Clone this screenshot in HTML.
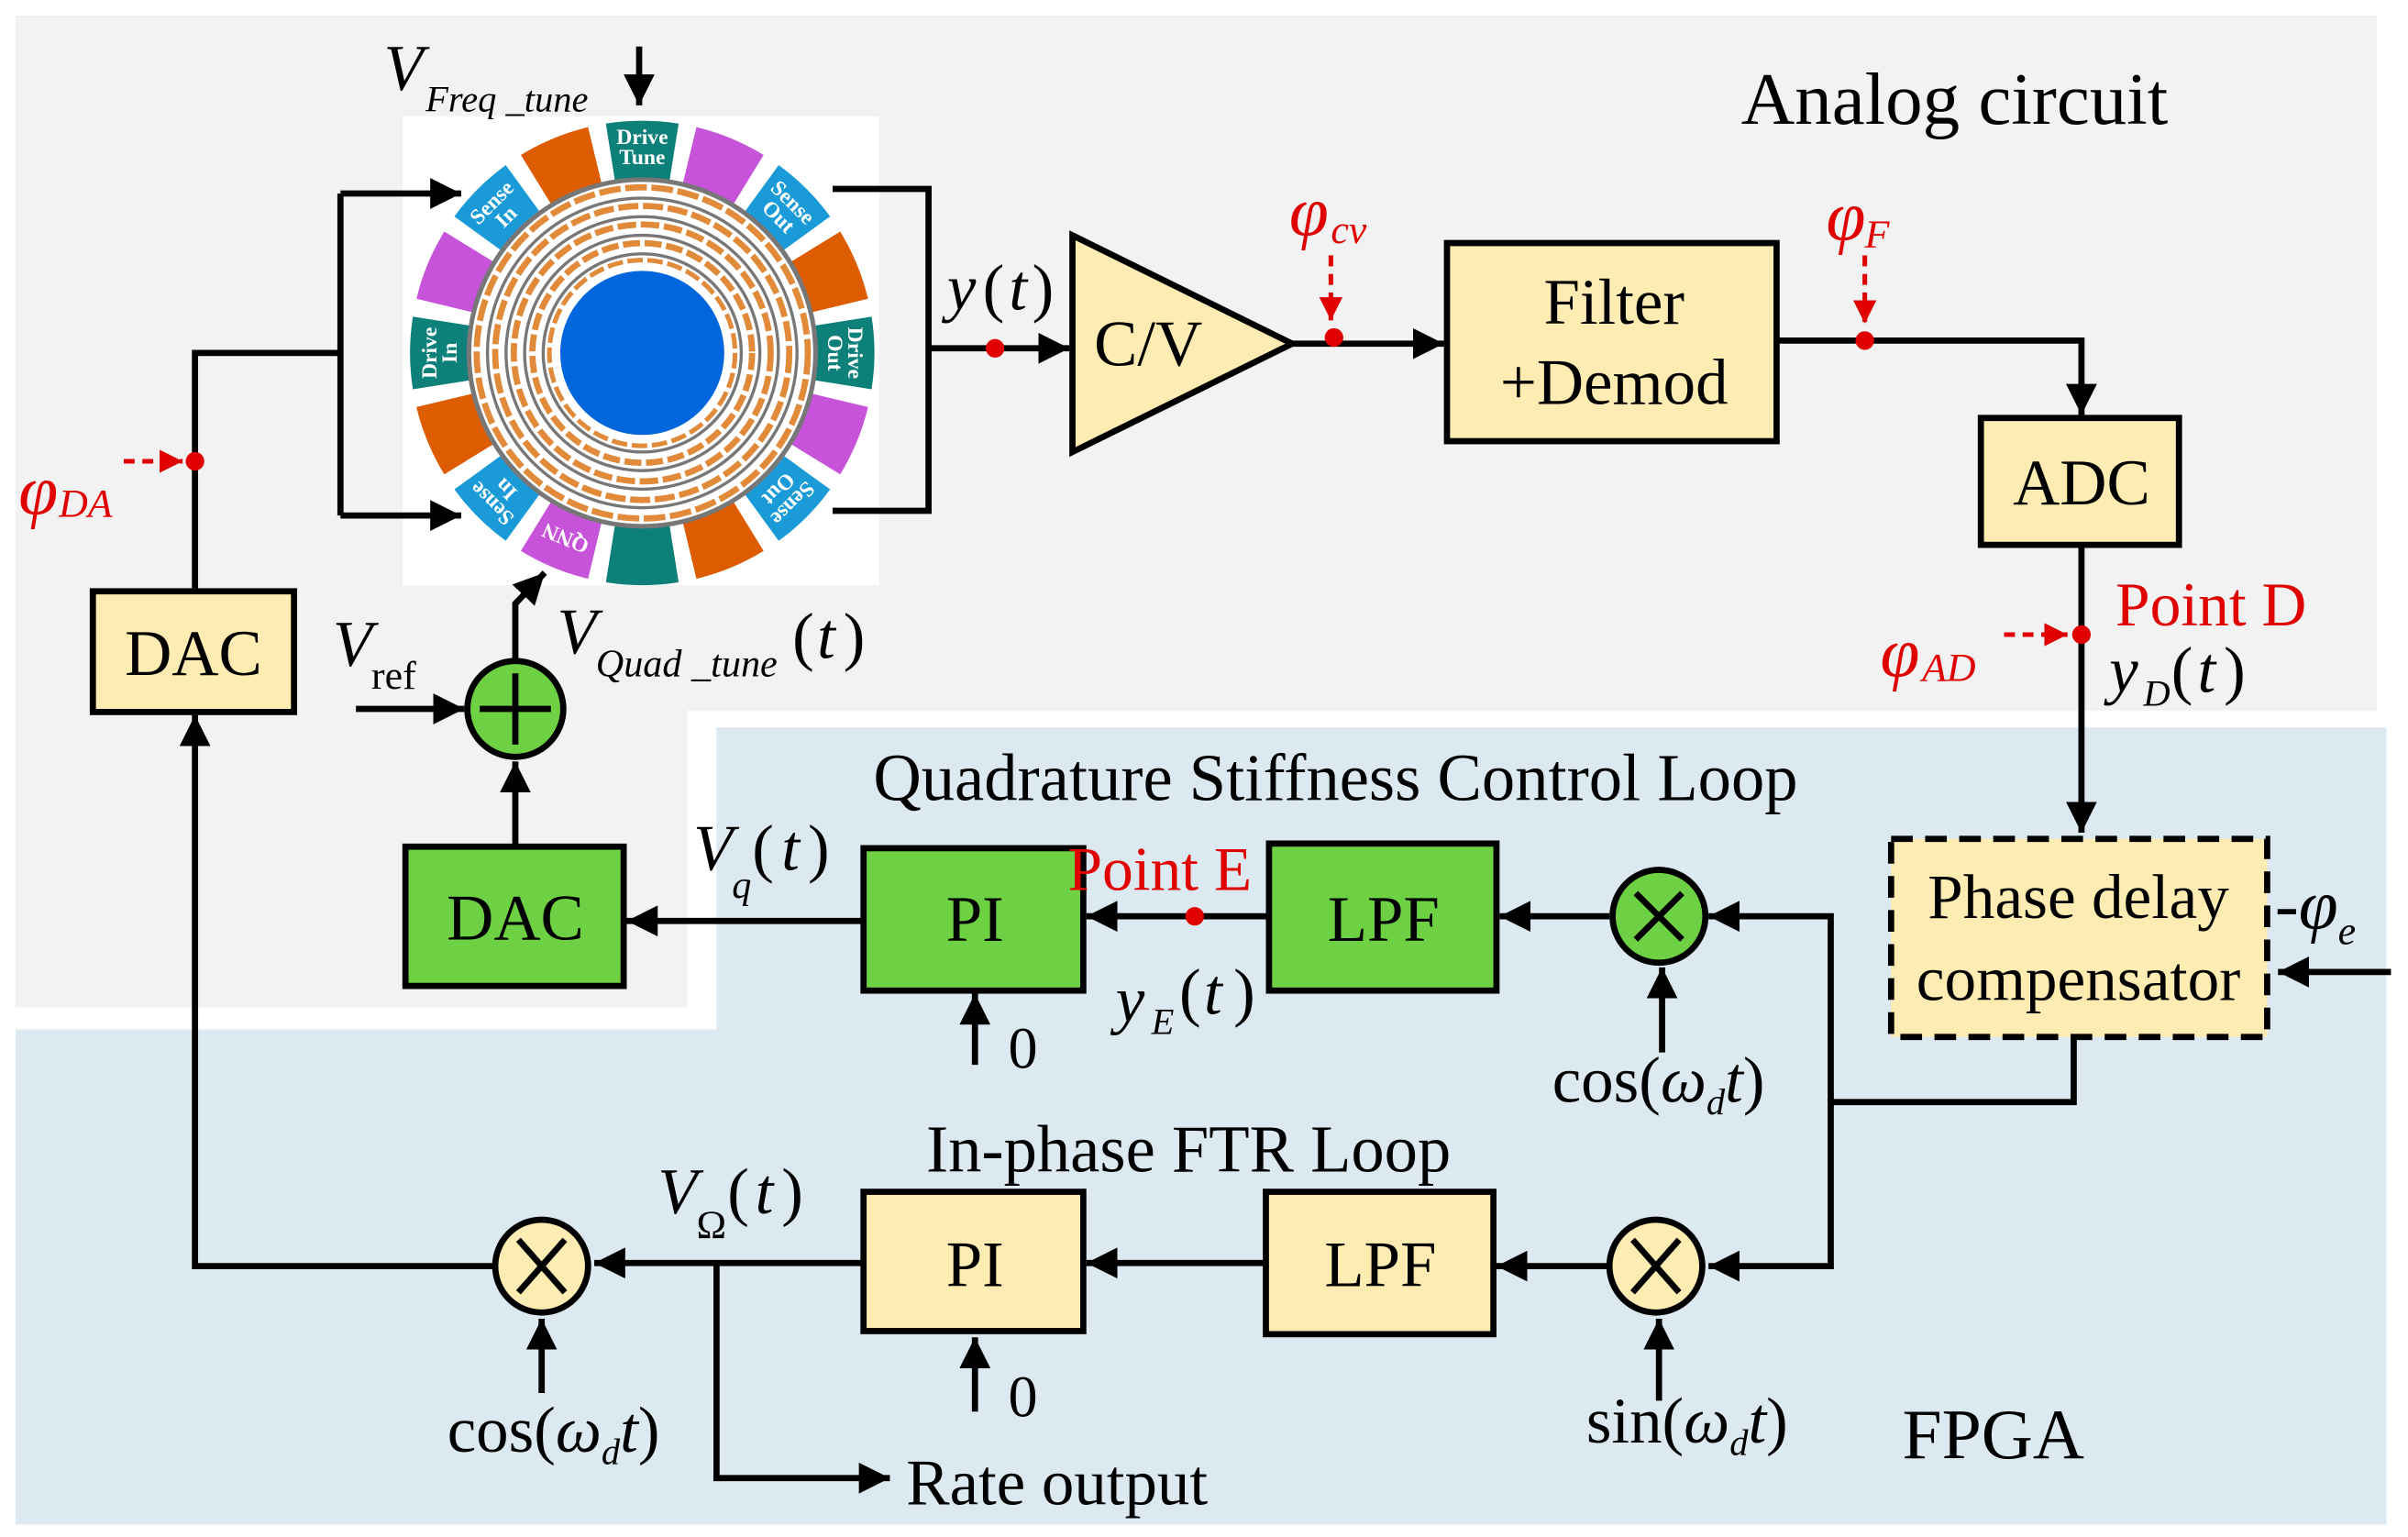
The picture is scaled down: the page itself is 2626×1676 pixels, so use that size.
<!DOCTYPE html>
<html><head><meta charset="utf-8"><style>
html,body{margin:0;padding:0;background:#fff;}
svg{display:block;}
text{font-family:"Liberation Serif",serif;}
.it{font-style:italic;}
</style></head><body>
<svg width="2626" height="1676" viewBox="0 0 1556 993" xmlns="http://www.w3.org/2000/svg">
<defs>
<marker id="ar" viewBox="0 0 10 10" refX="10" refY="5" markerWidth="5" markerHeight="5" orient="auto" markerUnits="strokeWidth"><path d="M0,0L10,5L0,10Z" fill="#000"/></marker>
<marker id="rr" viewBox="0 0 10 10" refX="10" refY="5" markerWidth="5" markerHeight="5" orient="auto" markerUnits="strokeWidth"><path d="M0,0L10,5L0,10Z" fill="#e00000"/></marker>
<path id="sg" d="M391.5,79.8A150,150 0 0 1 438.5,79.8L432.7,116.4A113,113 0 0 0 397.3,116.4Z"/>
</defs>
<path d="M10,10H1536V459H444V651H10Z" fill="#f2f2f2"/>
<path d="M463,470H1542V985H10V665H463Z" fill="#dce9f0"/>

<rect x="260" y="75" width="308" height="303" fill="#fff"/>
<g>
<use href="#sg" fill="#0e807a"/>
<use href="#sg" fill="#c653d9" transform="rotate(22.5 415 228)"/>
<use href="#sg" fill="#1a9bd7" transform="rotate(45 415 228)"/>
<use href="#sg" fill="#de5c00" transform="rotate(67.5 415 228)"/>
<use href="#sg" fill="#0e807a" transform="rotate(90 415 228)"/>
<use href="#sg" fill="#c653d9" transform="rotate(112.5 415 228)"/>
<use href="#sg" fill="#1a9bd7" transform="rotate(135 415 228)"/>
<use href="#sg" fill="#de5c00" transform="rotate(157.5 415 228)"/>
<use href="#sg" fill="#0e807a" transform="rotate(180 415 228)"/>
<use href="#sg" fill="#c653d9" transform="rotate(202.5 415 228)"/>
<use href="#sg" fill="#1a9bd7" transform="rotate(225 415 228)"/>
<use href="#sg" fill="#de5c00" transform="rotate(247.5 415 228)"/>
<use href="#sg" fill="#0e807a" transform="rotate(270 415 228)"/>
<use href="#sg" fill="#c653d9" transform="rotate(292.5 415 228)"/>
<use href="#sg" fill="#1a9bd7" transform="rotate(315 415 228)"/>
<use href="#sg" fill="#de5c00" transform="rotate(337.5 415 228)"/>
</g>
<g font-family="Liberation Serif" font-weight="bold" font-size="14" fill="#fff" text-anchor="middle">
<g><text x="415" y="93">Drive</text><text x="415" y="106">Tune</text></g>
<g transform="rotate(45 415 228)"><text x="415" y="95">Sense</text><text x="415" y="108">Out</text></g>
<g transform="rotate(90 415 228)"><text x="415" y="95">Drive</text><text x="415" y="108">Out</text></g>
<g transform="rotate(135 415 228)"><text x="415" y="95">Sense</text><text x="415" y="108">Out</text></g>
<g transform="rotate(202.5 415 228)"><text x="415" y="103">QNN</text></g>
<g transform="rotate(225 415 228)"><text x="415" y="95">Sense</text><text x="415" y="108">In</text></g>
<g transform="rotate(270 415 228)"><text x="415" y="95">Drive</text><text x="415" y="108">In</text></g>
<g transform="rotate(315 415 228)"><text x="415" y="95">Sense</text><text x="415" y="108">In</text></g>
</g>
<circle cx="415" cy="228" r="112" fill="#fff" stroke="#777" stroke-width="3"/>
<g fill="none">
<circle cx="415" cy="228" r="107" stroke="#e08a3a" stroke-width="4" stroke-dasharray="14 3"/>
<circle cx="415" cy="228" r="100" stroke="#777" stroke-width="2"/>
<circle cx="415" cy="228" r="95" stroke="#e08a3a" stroke-width="4" stroke-dasharray="13 3"/>
<circle cx="415" cy="228" r="88" stroke="#777" stroke-width="2"/>
<circle cx="415" cy="228" r="83" stroke="#e08a3a" stroke-width="4" stroke-dasharray="12 3"/>
<circle cx="415" cy="228" r="76" stroke="#777" stroke-width="2"/>
<circle cx="415" cy="228" r="71" stroke="#e08a3a" stroke-width="4" stroke-dasharray="11 3"/>
<circle cx="415" cy="228" r="64" stroke="#777" stroke-width="2"/>
<circle cx="415" cy="228" r="60" stroke="#e08a3a" stroke-width="3" stroke-dasharray="10 3"/>
</g>
<circle cx="415" cy="228" r="53" fill="#0066dd"/>

<g stroke="#000" stroke-width="4" fill="none">
<path d="M126,380V228H220"/>
<path d="M220,125V333"/>
<path d="M220,125H298" marker-end="url(#ar)"/>
<path d="M220,333H298" marker-end="url(#ar)"/>
<path d="M413,30V68" marker-end="url(#ar)"/>
<path d="M538,122H600V330H538"/>
<path d="M600,225H691" marker-end="url(#ar)"/>
<path d="M835,222H933" marker-end="url(#ar)"/>
<path d="M1148,220H1345V268" marker-end="url(#ar)"/>
<path d="M1345,352V538" marker-end="url(#ar)"/>
<path d="M1545,628H1472" marker-end="url(#ar)"/>
<path d="M1340,670V712H1183V818H1104" marker-end="url(#ar)"/>
<path d="M1183,712V592H1104" marker-end="url(#ar)"/>
<path d="M1040,592H969" marker-end="url(#ar)"/>
<path d="M820,592H702" marker-end="url(#ar)"/>
<path d="M558,595H405" marker-end="url(#ar)"/>
<path d="M630,688V642" marker-end="url(#ar)"/>
<path d="M333,547V492" marker-end="url(#ar)"/>
<path d="M230,458H300" marker-end="url(#ar)"/>
<path d="M333,427V390L352,370" marker-end="url(#ar)"/>
<path d="M1074,680V625" marker-end="url(#ar)"/>
<path d="M1040,818H967" marker-end="url(#ar)"/>
<path d="M818,816H702" marker-end="url(#ar)"/>
<path d="M558,816H384" marker-end="url(#ar)"/>
<path d="M320,818H126V462" marker-end="url(#ar)"/>
<path d="M463,816V955H575" marker-end="url(#ar)"/>
<path d="M350,900V852" marker-end="url(#ar)"/>
<path d="M630,912V864" marker-end="url(#ar)"/>
<path d="M1072,905V852" marker-end="url(#ar)"/>
</g>

<g stroke="#000" stroke-width="4">
<path d="M693,152L835,222L693,292Z" fill="#ffecb3"/>
<rect x="935" y="157" width="213" height="128" fill="#ffecb3"/>
<rect x="1280" y="270" width="128" height="82" fill="#ffecb3"/>
<rect x="1222" y="542" width="243" height="128" fill="#ffecb3" stroke-dasharray="14 8"/>
<rect x="60" y="382" width="130" height="78" fill="#ffecb3"/>
<rect x="262" y="547" width="141" height="90" fill="#6dd143"/>
<rect x="558" y="548" width="142" height="92" fill="#6dd143"/>
<rect x="820" y="545" width="147" height="95" fill="#6dd143"/>
<rect x="558" y="770" width="142" height="90" fill="#ffecb3"/>
<rect x="818" y="770" width="147" height="92" fill="#ffecb3"/>
<circle cx="333" cy="458" r="31" fill="#6dd143"/>
<circle cx="1072" cy="592" r="30" fill="#6dd143"/>
<circle cx="1070" cy="818" r="30" fill="#ffecb3"/>
<circle cx="350" cy="818" r="30" fill="#ffecb3"/>
<path d="M333,435V481M310,458H356" fill="none"/>
<path d="M1057,577L1087,607M1087,577L1057,607" fill="none"/>
<path d="M1055,801L1085,835M1085,801L1055,835" fill="none"/>
<path d="M335,801L365,835M365,801L335,835" fill="none"/>
</g>

<g stroke="#e00000" stroke-width="3" fill="none" stroke-dasharray="7 5">
<path d="M80,298H118" marker-end="url(#rr)"/>
<path d="M860,165V207" marker-end="url(#rr)"/>
<path d="M1205,165V209" marker-end="url(#rr)"/>
<path d="M1295,410H1336" marker-end="url(#rr)"/>
</g>
<g fill="#e00000">
<circle cx="126" cy="298" r="6"/><circle cx="643" cy="225" r="6"/>
<circle cx="862" cy="218" r="6"/><circle cx="1205" cy="220" r="6"/>
<circle cx="1345" cy="410" r="6"/><circle cx="772" cy="592" r="6"/>
</g>

<g font-size="42" text-anchor="middle" fill="#000">
<text x="1263" y="80" font-size="48">Analog circuit</text>
<text x="742" y="236">C/V</text>
<text x="1043" y="209">Filter</text>
<text x="1043" y="261">+Demod</text>
<text x="1345" y="326">ADC</text>
<text x="125" y="436">DAC</text>
<text x="333" y="607">DAC</text>
<text x="630" y="608">PI</text>
<text x="894" y="608">LPF</text>
<text x="630" y="831">PI</text>
<text x="892" y="831">LPF</text>
<text x="1343" y="593" font-size="41">Phase delay</text>
<text x="1343" y="646" font-size="41">compensator</text>
<text x="863" y="517" font-size="43">Quadrature Stiffness Control Loop</text>
<text x="768" y="757" font-size="43">In-phase FTR Loop</text>
<text x="1288" y="942" font-size="46">FPGA</text>
<text x="683" y="972" font-size="42">Rate output</text>
<text x="661" y="690" font-size="38">0</text>
<text x="661" y="915" font-size="38">0</text>
</g>
<g font-size="42" fill="#000">
<text x="248" y="58" class="it">V</text><text x="275" y="72" class="it" font-size="24">Freq _tune</text>
<text x="612" y="200" class="it">y</text><text x="635" y="200">(</text><text x="652" y="200" class="it">t</text><text x="667" y="200">)</text>
<text x="215" y="430" class="it">V</text><text x="240" y="445" font-size="26">ref</text>
<text x="360" y="422" class="it">V</text><text x="385" y="437" class="it" font-size="25">Quad _tune</text><text x="512" y="425">(</text><text x="528" y="425" class="it">t</text><text x="545" y="425">)</text>
<text x="448" y="562" class="it">V</text><text x="473" y="580" class="it" font-size="25">q</text><text x="486" y="562">(</text><text x="505" y="562" class="it">t</text><text x="522" y="562">)</text>
<text x="721" y="660" class="it">y</text><text x="744" y="668" class="it" font-size="24">E</text><text x="762" y="655">(</text><text x="778" y="655" class="it">t</text><text x="797" y="655">)</text>
<text x="1363" y="447" class="it">y</text><text x="1385" y="456" class="it" font-size="24">D</text><text x="1403" y="447">(</text><text x="1420" y="447" class="it">t</text><text x="1437" y="447">)</text>
<text x="425" y="784" class="it">V</text><text x="450" y="800" font-size="26">Ω</text><text x="470" y="784">(</text><text x="488" y="784" class="it">t</text><text x="505" y="784">)</text>
<text x="1003" y="712">cos(<tspan class="it">ω</tspan><tspan class="it" font-size="24" dy="8">d</tspan><tspan class="it" dy="-8">t</tspan>)</text>
<text x="289" y="938">cos(<tspan class="it">ω</tspan><tspan class="it" font-size="24" dy="8">d</tspan><tspan class="it" dy="-8">t</tspan>)</text>
<text x="1025" y="932">sin(<tspan class="it">ω</tspan><tspan class="it" font-size="24" dy="8">d</tspan><tspan class="it" dy="-8">t</tspan>)</text>
<text x="1470" y="600" font-size="46">-<tspan class="it">φ</tspan><tspan class="it" font-size="26" dy="10">e</tspan></text>
</g>
<g fill="#e00000" font-size="40">
<text x="12" y="332" class="it" font-size="46">φ</text><text x="38" y="334" class="it" font-size="26">DA</text>
<text x="833" y="152" class="it" font-size="46">φ</text><text x="860" y="157" class="it" font-size="26">cv</text>
<text x="1180" y="155" class="it" font-size="46">φ</text><text x="1205" y="160" class="it" font-size="26">F</text>
<text x="1215" y="437" class="it" font-size="46">φ</text><text x="1242" y="440" class="it" font-size="26">AD</text>
<text x="1367" y="404">Point D</text>
<text x="690" y="575">Point E</text>
</g>
</svg>
</body></html>
